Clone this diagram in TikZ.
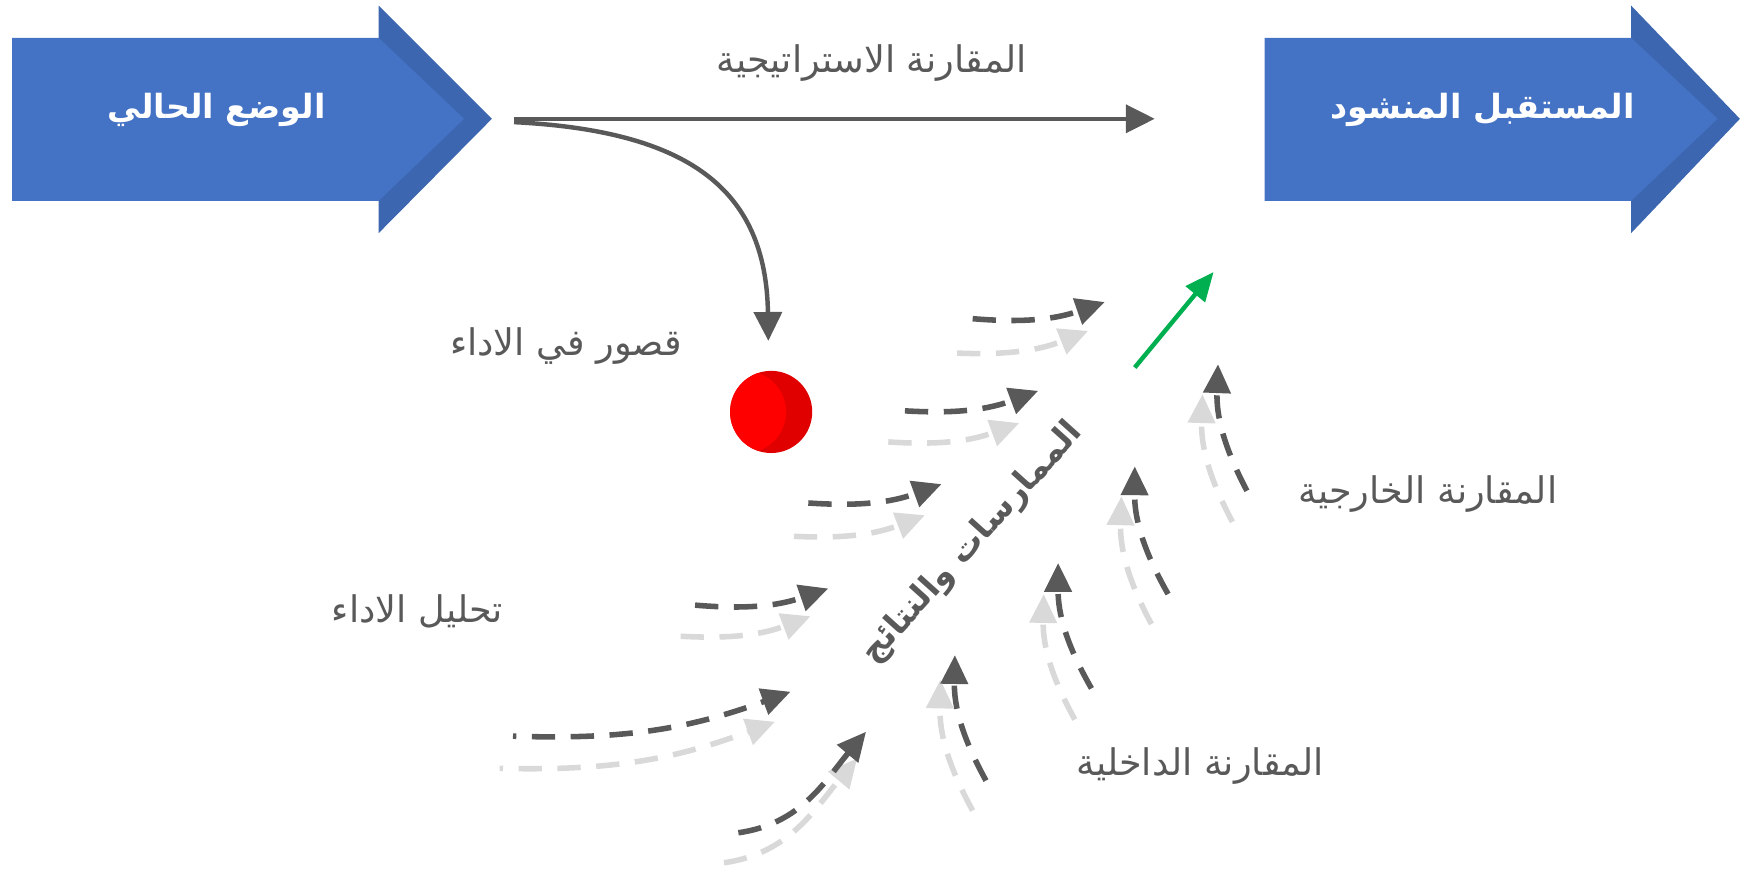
\documentclass[tikz,border=0pt]{standalone}
\usepackage{fontspec}
\TeXXeTstate=1
\newfontfamily\arabicfont[Script=Arabic]{DejaVu Sans}
\usetikzlibrary{arrows.meta}
\definecolor{blueA}{HTML}{4472C4}
\definecolor{blueB}{HTML}{3C66B0}
\definecolor{dgray}{HTML}{595959}
\definecolor{lgray}{HTML}{D9D9D9}
\definecolor{grn}{HTML}{00B050}
\definecolor{redA}{HTML}{FF0000}
\definecolor{redB}{HTML}{E00000}
\tikzset{
  lbl/.style={text=dgray, font=\arabicfont\fontsize{33}{38}\selectfont, inner sep=0pt},
  boxlbl/.style={text=white, font=\arabicfont\bfseries\fontsize{30}{34}\selectfont, inner sep=0pt},
  solidarr/.style={dgray, line width=4pt, -{Triangle[length=26pt,width=25pt]}},
  darr/.style={dgray, line width=5pt, dash pattern=on 21pt off 14pt, -{Triangle[length=26pt,width=24pt]}},
  larr/.style={lgray, line width=5pt, dash pattern=on 21pt off 14pt, -{Triangle[length=26pt,width=24pt]}},
}
\begin{document}
\begin{tikzpicture}[x=1pt,y=1pt]
\useasboundingbox (0,0) rectangle (1568,-782);
% left big arrow
\fill[blueB] (341,-5) -- (443,-107) -- (341,-210) -- cycle;
\fill[blueA] (11,-34) -- (341,-34) -- (418,-107) -- (341,-181) -- (11,-181) -- cycle;
% right big arrow
\fill[blueB] (1469,-5) -- (1567,-107) -- (1469,-210) -- cycle;
\fill[blueA] (1139,-34) -- (1469,-34) -- (1547,-107) -- (1469,-181) -- (1139,-181) -- cycle;
\node[boxlbl] (now) at (195,-99) {\beginR الوضع الحالي\endR};
\node[boxlbl] (future) at (1335,-99) {\beginR المستقبل المنشود\endR};
% strategic comparison
\coordinate (s0) at (463,-107);
\coordinate (s1) at (1040,-107);
\coordinate (c0) at (463,-110);
\coordinate (c1) at (692,-307);
\draw[solidarr] (s0) -- (s1);
\node[lbl] (strat) at (785,-57) {\beginR المقارنة الاستراتيجية\endR};
\draw[solidarr] (c0) .. controls (620,-118) and (690,-170) .. (c1);
\node[lbl] (gap) at (510,-312) {\beginR قصور في الاداء\endR};
% red dot
\fill[redB] (694.5,-371) circle (37);
\begin{scope}
  \clip (694.5,-371) circle (37);
  \fill[redA] (671,-371) circle (37);
\end{scope}
\node[lbl] (anal) at (376,-551) {\beginR تحليل الاداء\endR};
\node[lbl] (ext) at (1286,-445) {\beginR المقارنة الخارجية\endR};
\node[lbl] (int) at (1081,-690) {\beginR المقارنة الداخلية\endR};
\node[text=dgray, font=\arabicfont\bfseries\fontsize{30}{34}\selectfont, inner sep=0pt, rotate=48] (prac) at (876,-489) {\beginR الممارسات والنتائج\endR};
% green arrow
\coordinate (g0) at (1022,-331);
\coordinate (g1) at (1093,-245);
\draw[grn, line width=4pt, -{Triangle[length=26pt,width=22pt]}] (g0) -- (g1);
% horizontal dashed arrows
\coordinate (h1a) at (876,-287); \coordinate (h1b) at (995,-272);
\coordinate (h1c) at (862,-318); \coordinate (h1d) at (980,-298);
\coordinate (h2a) at (815,-370); \coordinate (h2b) at (935,-352);
\coordinate (h2c) at (800,-398); \coordinate (h2d) at (918,-381);
\coordinate (h3a) at (728,-453); \coordinate (h3b) at (848,-436);
\coordinate (h3c) at (715,-483); \coordinate (h3d) at (833,-464);
\coordinate (h4a) at (626,-545); \coordinate (h4b) at (746,-530);
\coordinate (h4c) at (613,-573); \coordinate (h4d) at (730,-555);
\coordinate (h5a) at (462,-663); \coordinate (h5b) at (712,-623);
\coordinate (h5c) at (450,-692); \coordinate (h5d) at (698,-650);
\coordinate (d6a) at (665,-750); \coordinate (d6b) at (780,-659);
\coordinate (d6c) at (652,-777); \coordinate (d6d) at (772,-683);
\foreach \n in {1,2,3,4}{
  \draw[larr] (h\n c) to[bend right=12] (h\n d);
  \draw[darr] (h\n a) to[bend right=12] (h\n b);
}
\draw[larr, dash phase=18pt] (h5c) to[bend right=11] (h5d);
\draw[darr, dash phase=18pt] (h5a) to[bend right=11] (h5b);
\draw[larr] (d6c) to[out=8,in=230] (d6d);
\draw[darr] (d6a) to[out=8,in=230] (d6b);
% vertical dashed arrows
\coordinate (v7a) at (888,-703); \coordinate (v7b) at (860,-590);
\coordinate (v7c) at (876,-730); \coordinate (v7d) at (847,-612);
\coordinate (v8a) at (983,-620); \coordinate (v8b) at (953,-507);
\coordinate (v8c) at (968,-648); \coordinate (v8d) at (940,-535);
\coordinate (v9a) at (1052,-535); \coordinate (v9b) at (1022,-420);
\coordinate (v9c) at (1037,-562); \coordinate (v9d) at (1010,-447);
\coordinate (v10a) at (1123,-442); \coordinate (v10b) at (1097,-328);
\coordinate (v10c) at (1110,-470); \coordinate (v10d) at (1083,-355);
\foreach \n in {7,8,9,10}{
  \draw[larr] (v\n c) to[bend left=15] (v\n d);
  \draw[darr] (v\n a) to[bend left=15] (v\n b);
}
\end{tikzpicture}
\end{document}
